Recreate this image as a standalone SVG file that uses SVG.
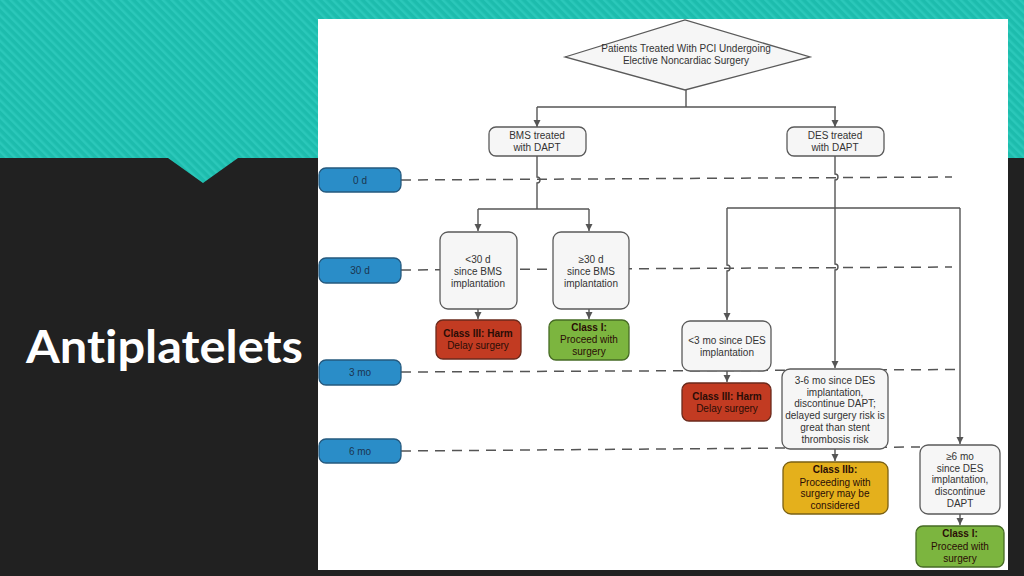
<svg xmlns="http://www.w3.org/2000/svg" width="1024" height="576" viewBox="0 0 1024 576">
<defs>
<pattern id="stripes" width="6" height="6" patternUnits="userSpaceOnUse" patternTransform="rotate(-45)">
<rect width="6" height="6" fill="#1dbcad"/>
<rect width="2.5" height="6" fill="#2bc8ba"/>
</pattern>
<marker id="arr" markerWidth="8" markerHeight="8" refX="7" refY="4" orient="auto" markerUnits="userSpaceOnUse">
<path d="M0,0.5 L7,4 L0,7.5 z" fill="#555"/>
</marker>
<style>
.t{font-family:"Liberation Sans",Arial,sans-serif;font-size:10px;fill:#333;text-anchor:middle}
.b{font-weight:bold}
.dk{fill:#2a0d06}
.box{fill:#f6f6f6;stroke:#5a5a5a;stroke-width:1.3}
.red{fill:#c23b22;stroke:#6b2a1c;stroke-width:1.3}
.green{fill:#7cb53f;stroke:#466b24;stroke-width:1.3}
.yellow{fill:#e4b01c;stroke:#7a6014;stroke-width:1.3}
.time{fill:#2a8dc8;stroke:#25597e;stroke-width:1.3}
.tt{font-family:"Liberation Sans",Arial,sans-serif;font-size:10px;fill:#1b3550;text-anchor:middle}
.c{fill:none;stroke:#555;stroke-width:1.4}
.d{fill:none;stroke:#555;stroke-width:1.5;stroke-dasharray:10 7}
</style>
</defs>
<rect width="1024" height="576" fill="#212121"/>
<polygon points="0,0 1024,0 1024,158 238,158 203,183 168,158 0,158" fill="url(#stripes)"/>
<rect x="318" y="19" width="690" height="551" fill="#ffffff"/>
<text x="26" y="363" font-family="Lato,'Liberation Sans',sans-serif" font-weight="bold" font-size="46" fill="#ffffff" textLength="277" lengthAdjust="spacingAndGlyphs" style="font-variant-ligatures:none">Antiplatelets</text>

<g id="timelines">
<path class="d" d="M401,180 L952,177"/>
<path class="d" d="M401,270 L952,267"/>
<path class="d" d="M401,372 L957,369.5"/>
<path class="d" d="M401,451 L920,447"/>
</g>

<g id="connectors">
<path class="c" d="M686,90 V107 M537,107 H836"/>
<path class="c" d="M537,107 V127" marker-end="url(#arr)"/>
<path class="c" d="M835,107 V127" marker-end="url(#arr)"/>
<path class="c" d="M537,156 V177 A3,3 0 0 1 537,183 V209 M478,209 H589"/>
<path class="c" d="M478,209 V231" marker-end="url(#arr)"/>
<path class="c" d="M589,209 V231" marker-end="url(#arr)"/>
<path class="c" d="M478,309 V319" marker-end="url(#arr)"/>
<path class="c" d="M589,309 V319" marker-end="url(#arr)"/>
<path class="c" d="M835,156 V174 A3,3 0 0 1 835,180 V264 A3,3 0 0 1 835,270 V368" marker-end="url(#arr)"/>
<path class="c" d="M727,208 H960"/>
<path class="c" d="M727,208 V265 A3,3 0 0 1 727,271 V320" marker-end="url(#arr)"/>
<path class="c" d="M960,208 V444" marker-end="url(#arr)"/>
<path class="c" d="M727,371 V382" marker-end="url(#arr)"/>
<path class="c" d="M835,449 V461" marker-end="url(#arr)"/>
<path class="c" d="M960,514 V525" marker-end="url(#arr)"/>
</g>

<g id="start">
<polygon points="565,57 685,20 810,57 685,90" class="box"/>
<text class="t" x="686" y="52">Patients Treated With PCI Undergoing</text>
<text class="t" x="686" y="64">Elective Noncardiac Surgery</text>
</g>
<g id="bms">
<rect x="489" y="127" width="97" height="29" rx="7" class="box"/>
<text class="t" x="537" y="139">BMS treated</text>
<text class="t" x="537" y="151">with DAPT</text>
</g>
<g id="des">
<rect x="787" y="127" width="97" height="29" rx="7" class="box"/>
<text class="t" x="835" y="139">DES treated</text>
<text class="t" x="835" y="151">with DAPT</text>
</g>
<g id="bms-lt30">
<rect x="440" y="232" width="77" height="77" rx="8" class="box"/>
<text class="t" x="478" y="263">&lt;30 d</text>
<text class="t" x="478" y="275">since BMS</text>
<text class="t" x="478" y="287">implantation</text>
</g>
<g id="bms-ge30">
<rect x="553" y="232" width="76" height="77" rx="8" class="box"/>
<text class="t" x="591" y="263">≥30 d</text>
<text class="t" x="591" y="275">since BMS</text>
<text class="t" x="591" y="287">implantation</text>
</g>
<g id="bms-harm">
<rect x="436" y="320" width="85" height="39" rx="7" class="red"/>
<text class="t b dk" x="478" y="337">Class III: Harm</text>
<text class="t dk" x="478" y="349">Delay surgery</text>
</g>
<g id="bms-proceed">
<rect x="549" y="320" width="80" height="40" rx="7" class="green"/>
<text class="t b dk" x="589" y="331">Class I:</text>
<text class="t dk" x="589" y="343">Proceed with</text>
<text class="t dk" x="589" y="355">surgery</text>
</g>
<g id="des-lt3">
<rect x="682" y="321" width="89" height="50" rx="8" class="box"/>
<text class="t" x="727" y="344">&lt;3 mo since DES</text>
<text class="t" x="727" y="356">implantation</text>
</g>
<g id="des-harm">
<rect x="682" y="383" width="89" height="38" rx="7" class="red"/>
<text class="t b dk" x="727" y="400">Class III: Harm</text>
<text class="t dk" x="727" y="412">Delay surgery</text>
</g>
<g id="des-3to6">
<rect x="782" y="369" width="106" height="80" rx="8" class="box"/>
<text class="t" x="835" y="384">3-6 mo since DES</text>
<text class="t" x="835" y="396">implantation,</text>
<text class="t" x="835" y="407">discontinue DAPT;</text>
<text class="t" x="835" y="419">delayed surgery risk is</text>
<text class="t" x="835" y="431">great than stent</text>
<text class="t" x="835" y="443">thrombosis risk</text>
</g>
<g id="des-iib">
<rect x="783" y="462" width="105" height="52" rx="8" class="yellow"/>
<text class="t b dk" x="835" y="473">Class IIb:</text>
<text class="t dk" x="835" y="486">Proceeding with</text>
<text class="t dk" x="835" y="497">surgery may be</text>
<text class="t dk" x="835" y="509">considered</text>
</g>
<g id="des-ge6">
<rect x="920" y="445" width="80" height="69" rx="8" class="box"/>
<text class="t" x="960" y="460">≥6 mo</text>
<text class="t" x="960" y="472">since DES</text>
<text class="t" x="960" y="483">implantation,</text>
<text class="t" x="960" y="495">discontinue</text>
<text class="t" x="960" y="507">DAPT</text>
</g>
<g id="des-proceed">
<rect x="916" y="526" width="88" height="41" rx="7" class="green"/>
<text class="t b dk" x="960" y="537">Class I:</text>
<text class="t dk" x="960" y="550">Proceed with</text>
<text class="t dk" x="960" y="562">surgery</text>
</g>
<g id="t0">
<rect x="319" y="168" width="82" height="24" rx="7" class="time"/>
<text class="tt" x="360" y="184">0 d</text>
</g>
<g id="t30">
<rect x="319" y="258" width="82" height="25" rx="7" class="time"/>
<text class="tt" x="360" y="274">30 d</text>
</g>
<g id="t3">
<rect x="319" y="360" width="82" height="25" rx="7" class="time"/>
<text class="tt" x="360" y="376">3 mo</text>
</g>
<g id="t6">
<rect x="319" y="439" width="82" height="24" rx="7" class="time"/>
<text class="tt" x="360" y="455">6 mo</text>
</g>
</svg>
